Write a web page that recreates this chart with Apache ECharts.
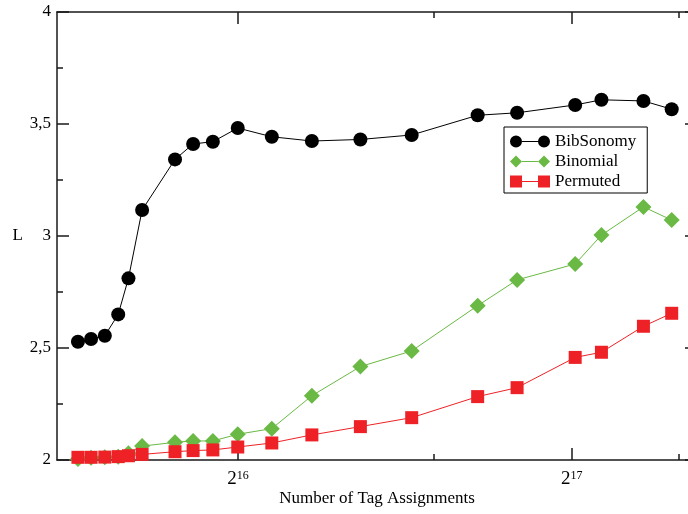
<!DOCTYPE html>
<html><head><meta charset="utf-8">
<script src="https://cdn.jsdelivr.net/npm/echarts@6/dist/echarts.min.js"></script>
<style>html,body{margin:0;padding:0;background:#fff}#c{width:688px;height:514px}</style>
</head><body><div id="c"></div>
<script>
// Number of tag assignments (x, log2 scale)
const assignments = [47000, 48300, 49700, 51100, 52200, 53700, 57500, 59700, 62200, 65500, 70300, 76400, 84500, 94000, 107800, 117000, 132000, 139400, 152100, 161300];
// L values
const bibsonomy = [2.528, 2.540, 2.555, 2.650, 2.811, 3.116, 3.342, 3.411, 3.421, 3.482, 3.443, 3.424, 3.431, 3.451, 3.539, 3.550, 3.585, 3.608, 3.603, 3.566];
const binomial  = [2.005, 2.010, 2.012, 2.014, 2.030, 2.062, 2.079, 2.085, 2.085, 2.115, 2.140, 2.287, 2.417, 2.487, 2.689, 2.804, 2.875, 3.004, 3.130, 3.071];
const permuted  = [2.012, 2.012, 2.013, 2.015, 2.019, 2.025, 2.037, 2.042, 2.045, 2.058, 2.076, 2.112, 2.149, 2.189, 2.283, 2.323, 2.458, 2.481, 2.597, 2.655];
const seriesNames = ['BibSonomy', 'Binomial', 'Permuted'];
const xMajorTicks = [65536, 131072];
const xMinorTicks = [98304, 163840];
const xMin = 45000, xMax = 170000;
const yMin = 2, yMax = 4, yStep = 0.5;

const FONT = '"Liberation Serif", "Times New Roman", serif';
const AX = '#1a1a1a';
const lmin = Math.log2(xMin), lmax = Math.log2(xMax);

function tickAxis(position, values, len, showLine, labels) {
  return {
    type: 'value', position: position, min: lmin, max: lmax,
    axisLine: { show: showLine, lineStyle: { color: AX, width: 1.5 } },
    axisTick: { show: true, inside: true, length: len, customValues: values.map(Math.log2), lineStyle: { color: AX, width: 1.5 } },
    axisLabel: labels ? {
      show: true, customValues: values.map(Math.log2), margin: 10,
      formatter: v => '{b|2}{s|' + Math.round(v) + '}',
      rich: {
        b: { fontFamily: FONT, fontSize: 19, color: '#000' },
        s: { fontFamily: FONT, fontSize: 12, color: '#000', verticalAlign: 'top' }
      }
    } : { show: false },
    splitLine: { show: false }
  };
}

function yAx(position, labels) {
  return {
    type: 'value', position: position, min: yMin, max: yMax, interval: yStep,
    axisLine: { show: true, lineStyle: { color: AX, width: 1.5 } },
    axisTick: { show: true, inside: true, length: 12, lineStyle: { color: AX, width: 1.5 } },
    minorTick: { show: true, splitNumber: 2, length: 6, lineStyle: { color: AX, width: 1.5 } },
    axisLabel: labels ? { show: true, margin: 6, fontFamily: FONT, fontSize: 17, color: '#000',
      formatter: v => String(v).replace('.', ',') } : { show: false },
    splitLine: { show: false },
    name: labels ? 'L' : '', nameLocation: 'middle', nameRotate: 0, nameGap: 34,
    nameTextStyle: { fontFamily: FONT, fontSize: 17, color: '#000' }
  };
}

const ICON_C = 'path://M0,6a6,6 0 1,0 12,0a6,6 0 1,0 -12,0ZM28,6a6,6 0 1,0 12,0a6,6 0 1,0 -12,0ZM12,5.5H28V6.5H12Z';
const ICON_D = 'path://M0,6L6,0L12,6L6,12ZM28,6L34,0L40,6L34,12ZM12,5.5H28V6.5H12Z';
const ICON_S = 'path://M0,0H12V12H0ZM28,0H40V12H28ZM12,5.5H28V6.5H12Z';

function pts(ys) { return assignments.map((x, i) => [x, ys[i]]); }

const chart = echarts.init(document.getElementById('c'), null, { renderer: 'canvas' });
chart.setOption({
  animation: false,
  backgroundColor: '#fff',
  grid: { left: 57, top: 12, width: 640, height: 448, containLabel: false, outerBoundsMode: 'none' },
  legend: {
    orient: 'vertical', left: 504, top: 127,
    itemWidth: 40, itemHeight: 12, itemGap: 3,
    padding: [6, 11, 3, 6],
    borderColor: '#000', borderWidth: 1,
    textStyle: { fontFamily: FONT, fontSize: 17, color: '#000' },
    data: [
      { name: seriesNames[0], icon: ICON_C },
      { name: seriesNames[1], icon: ICON_D },
      { name: seriesNames[2], icon: ICON_S }
    ]
  },
  xAxis: [
    {
      type: 'log', logBase: 2, min: xMin, max: xMax, position: 'bottom',
      axisLine: { show: true, lineStyle: { color: AX, width: 1.5 } },
      axisTick: { show: false }, axisLabel: { show: false }, splitLine: { show: false },
      name: 'Number of Tag Assignments', nameLocation: 'middle', nameGap: 30,
      nameTextStyle: { fontFamily: FONT, fontSize: 17, color: '#000' }
    },
    tickAxis('bottom', xMajorTicks, 12, false, true),
    tickAxis('bottom', xMinorTicks, 6, false, false),
    tickAxis('top', xMajorTicks, 12, true, false),
    tickAxis('top', xMinorTicks, 6, false, false)
  ],
  yAxis: [yAx('left', true), yAx('right', false)],
  series: [
    { name: seriesNames[0], type: 'line', xAxisIndex: 0, yAxisIndex: 0, data: pts(bibsonomy),
      symbol: 'circle', symbolSize: 14, color: '#000',
      lineStyle: { color: '#000', width: 1 }, itemStyle: { color: '#000' } },
    { name: seriesNames[1], type: 'line', xAxisIndex: 0, yAxisIndex: 0, data: pts(binomial),
      symbol: 'diamond', symbolSize: 16, color: '#69b944',
      lineStyle: { color: '#69b944', width: 1 }, itemStyle: { color: '#69b944' } },
    { name: seriesNames[2], type: 'line', xAxisIndex: 0, yAxisIndex: 0, data: pts(permuted),
      symbol: 'rect', symbolSize: 13, color: '#ee2226',
      lineStyle: { color: '#ee2226', width: 1 }, itemStyle: { color: '#ee2226' } }
  ]
});
</script></body></html>
